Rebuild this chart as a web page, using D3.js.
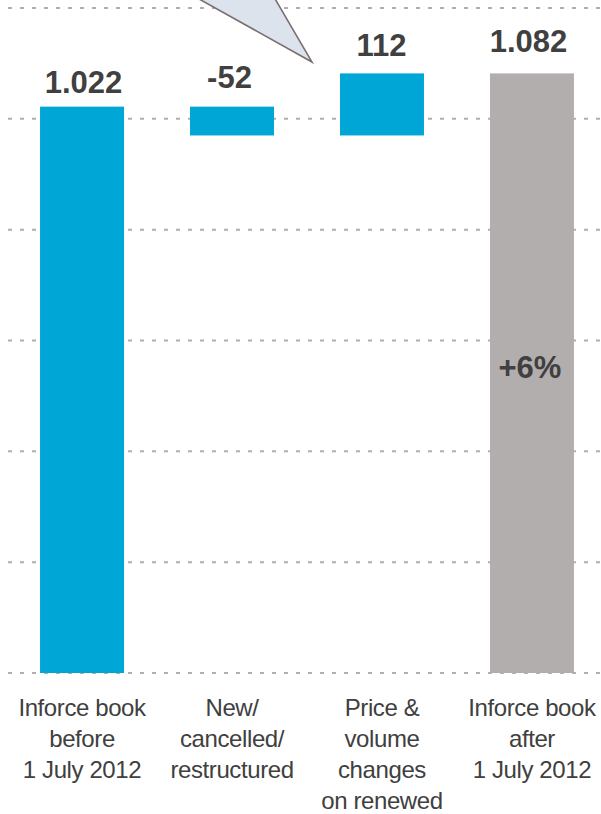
<!DOCTYPE html>
<html>
<head>
<meta charset="utf-8">
<script src="https://cdn.jsdelivr.net/npm/d3@7/dist/d3.min.js"></script>
<style>
  html, body { margin: 0; padding: 0; background: #ffffff; }
  svg { display: block; }
</style>
</head>
<body>
<div id="chart"></div>
<script>
// Inforce book bridge: start total, two movements, end total
const categories = [
  ["Inforce book", "before", "1 July 2012"],
  ["New/", "cancelled/", "restructured"],
  ["Price &", "volume", "changes", "on renewed"],
  ["Inforce book", "after", "1 July 2012"]
];
const values = [1022, -52, 112, 1082];
const kinds = ["total", "delta", "delta", "total"];
const valueLabels = ["1.022", "-52", "112", "1.082"];
const gridTicks = [0, 200, 400, 600, 800, 1000, 1200];
const growthLabel = "+6%";

const W = 601, H = 814;
const BLUE = "#00a7d6", GREY = "#b3aeae", TEXT = "#404040", GRID = "#b2aeae";

const svg = d3.select("#chart").append("svg")
  .attr("width", W).attr("height", H);

const x = d3.scaleBand()
  .domain(d3.range(categories.length))
  .range([7.5, 606.5])
  .paddingInner(0.44)
  .paddingOuter(0.217);

const y = d3.scaleLinear().domain([0, 1200]).range([673, 8]);

// Running totals give each bar its start and end
let running = 0;
const bars = values.map((v, i) => {
  let lo, hi;
  if (kinds[i] === "total") { lo = 0; hi = v; running = v; }
  else { const s = running; running += v; lo = Math.min(s, running); hi = Math.max(s, running); }
  return { i, v, lo, hi, kind: kinds[i], label: valueLabels[i] };
});

// Dotted gridlines
svg.append("g").selectAll("line").data(gridTicks).join("line")
  .attr("x1", 8).attr("x2", W)
  .attr("y1", d => y(d)).attr("y2", d => y(d))
  .attr("stroke", GRID).attr("stroke-width", 2)
  .attr("stroke-dasharray", "4,8");

// Bars
svg.append("g").selectAll("rect").data(bars).join("rect")
  .attr("x", d => x(d.i))
  .attr("width", x.bandwidth())
  .attr("y", d => y(d.hi))
  .attr("height", d => y(d.lo) - y(d.hi))
  .attr("fill", d => d.kind === "total" && d.i > 0 ? GREY : BLUE);

// Value labels above the bars
const labelGap = [14, 19, 17, 21];
const labelShift = [1.5, -2.5, -0.5, -3.5];
svg.append("g").selectAll("text").data(bars).join("text")
  .attr("x", d => x(d.i) + x.bandwidth() / 2 + labelShift[d.i])
  .attr("y", d => y(d.hi) - labelGap[d.i])
  .attr("text-anchor", "middle")
  .attr("font-family", "'Liberation Sans', Arial, sans-serif")
  .attr("font-weight", "bold")
  .attr("font-size", 31)
  .attr("fill", TEXT)
  .text(d => d.label);

// Growth label inside the closing bar
const last = bars[bars.length - 1];
svg.append("text")
  .attr("x", x(last.i) + x.bandwidth() / 2 - 2)
  .attr("y", 378)
  .attr("text-anchor", "middle")
  .attr("font-family", "'Liberation Sans', Arial, sans-serif")
  .attr("font-weight", "bold")
  .attr("font-size", 31)
  .attr("fill", TEXT)
  .text(growthLabel);

// Category labels below the axis
const cat = svg.append("g").selectAll("text").data(categories).join("text")
  .attr("text-anchor", "middle")
  .attr("font-family", "'Liberation Sans', Arial, sans-serif")
  .attr("font-size", 24)
  .attr("letter-spacing", -0.4)
  .attr("fill", TEXT);
cat.selectAll("tspan").data((d, i) => d.map(t => ({ t, i }))).join("tspan")
  .attr("x", d => x(d.i) + x.bandwidth() / 2)
  .attr("y", (d, j) => 716 + j * 31)
  .text(d => d.t);

// Pointer of the callout bubble, reaching down from above the chart
svg.append("polygon")
  .attr("points", "165,-20 264,-20 312,62")
  .attr("fill", "#dce3ed")
  .attr("stroke", "#7b6f6f")
  .attr("stroke-width", 1.6)
  .attr("stroke-linejoin", "miter");
</script>
</body>
</html>
